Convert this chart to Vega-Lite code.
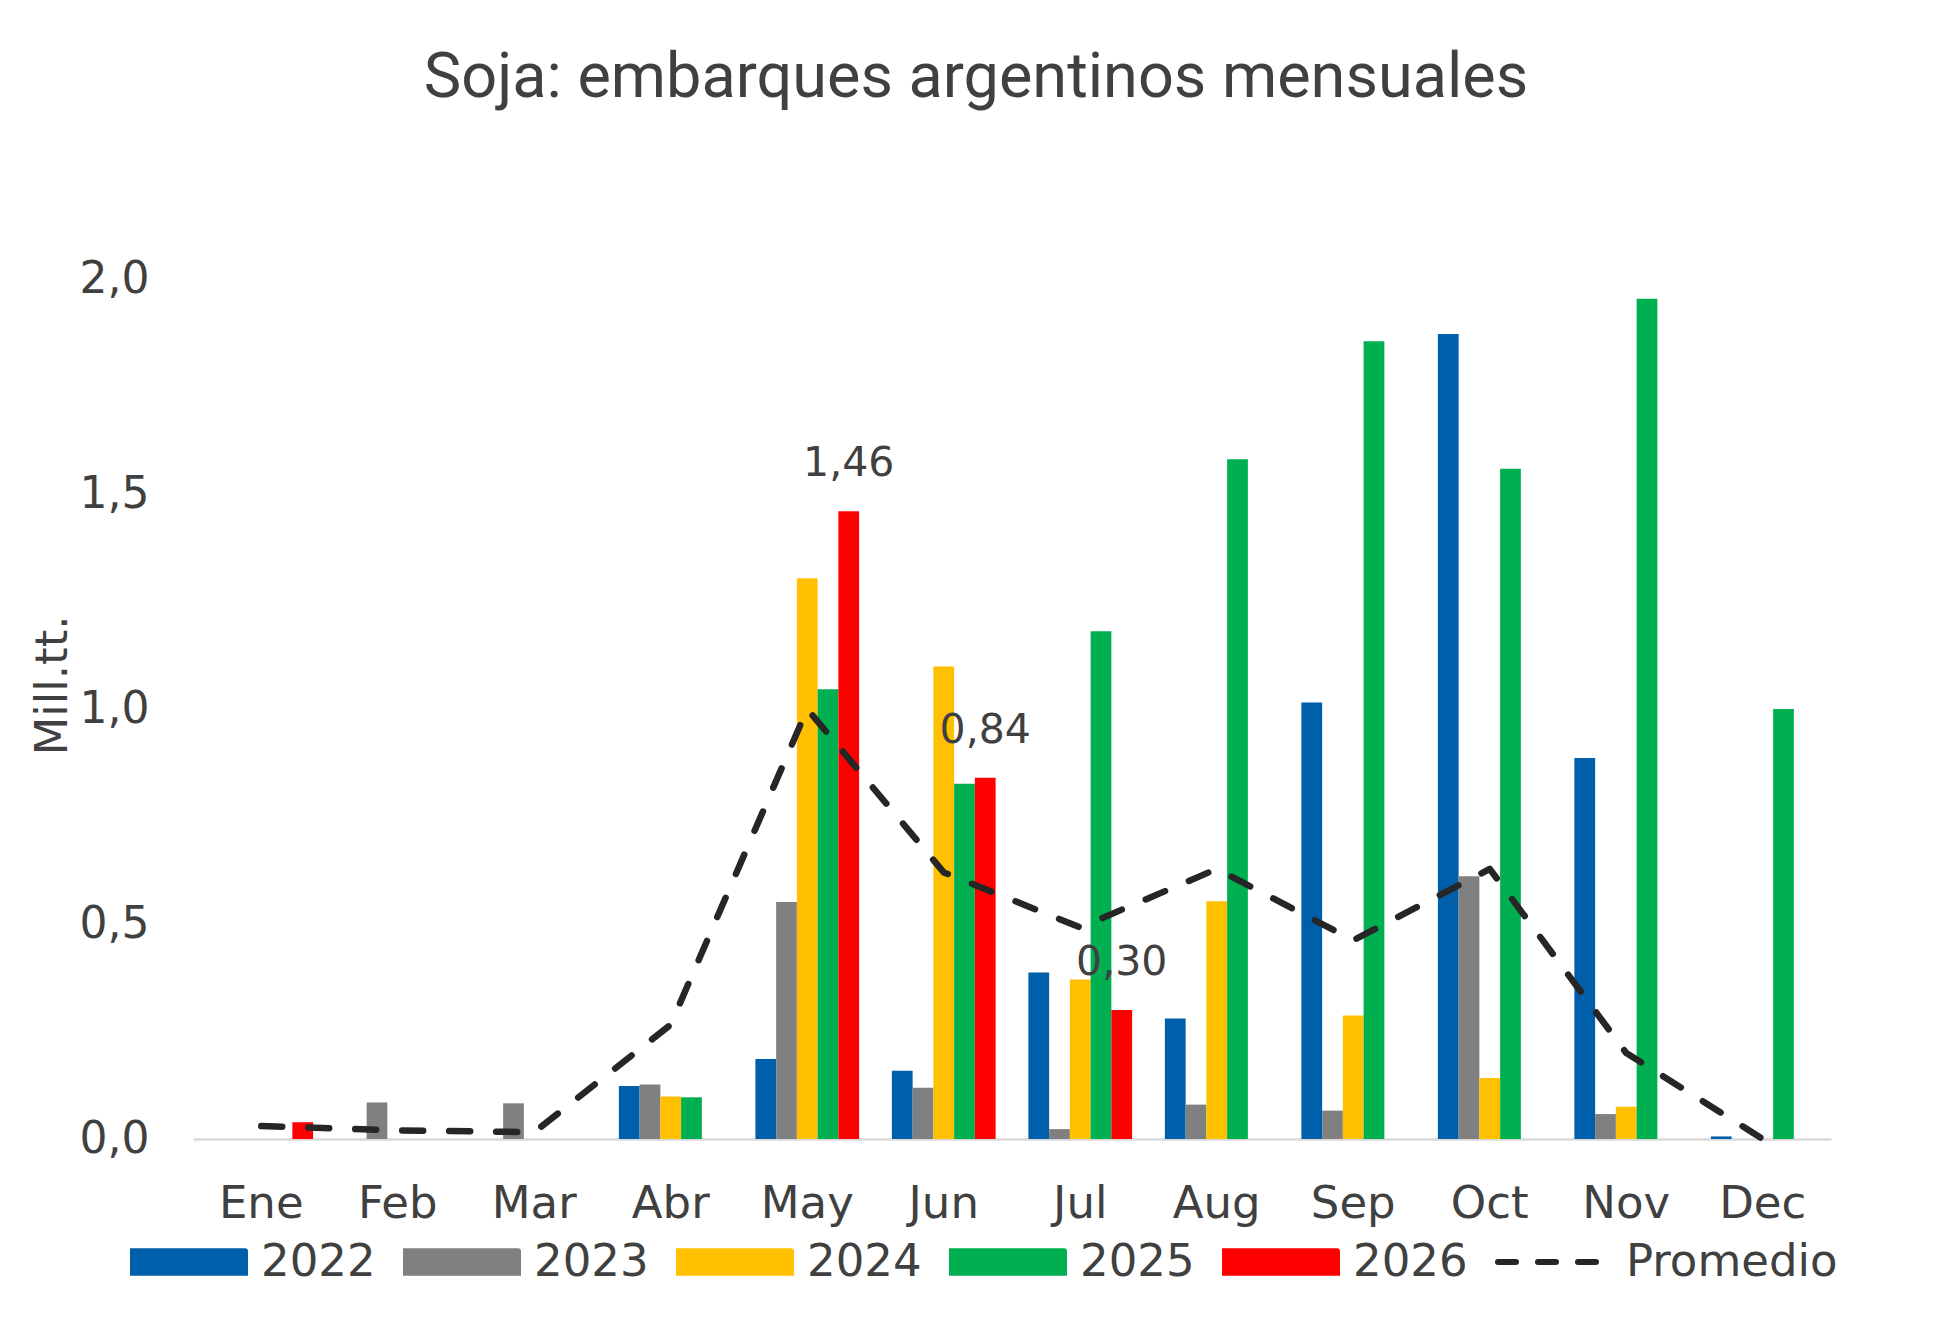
{
  "$schema": "https://vega.github.io/schema/vega-lite/v6.json",
  "width": 1638,
  "height": 860,
  "autosize": {"type": "none"},
  "padding": {"left": 193, "top": 279, "right": 122, "bottom": 194},
  "background": "white",
  "config": {
    "locale": {"number": {"decimal": ",", "thousands": ".", "grouping": [3], "currency": ["", " €"]}},
    "view": {"stroke": null},
    "font": "DejaVu Sans"
  },
  "title": {
    "text": "Soja: embarques argentinos mensuales",
    "font": "Roboto",
    "fontSize": 63,
    "fontWeight": "normal",
    "color": "#404040",
    "anchor": "middle",
    "frame": "group",
    "dx": -36,
    "offset": 147
  },
  "datasets": {
    "bars": [
      {"month": "Ene", "year": "2026", "value": 0.039},
      {"month": "Feb", "year": "2023", "value": 0.085},
      {"month": "Mar", "year": "2023", "value": 0.083},
      {"month": "Abr", "year": "2022", "value": 0.123},
      {"month": "Abr", "year": "2023", "value": 0.127},
      {"month": "Abr", "year": "2024", "value": 0.099},
      {"month": "Abr", "year": "2025", "value": 0.097},
      {"month": "May", "year": "2022", "value": 0.186},
      {"month": "May", "year": "2023", "value": 0.551},
      {"month": "May", "year": "2024", "value": 1.304},
      {"month": "May", "year": "2025", "value": 1.046},
      {"month": "May", "year": "2026", "value": 1.46},
      {"month": "Jun", "year": "2022", "value": 0.159},
      {"month": "Jun", "year": "2023", "value": 0.119},
      {"month": "Jun", "year": "2024", "value": 1.099},
      {"month": "Jun", "year": "2025", "value": 0.826},
      {"month": "Jun", "year": "2026", "value": 0.84},
      {"month": "Jul", "year": "2022", "value": 0.387},
      {"month": "Jul", "year": "2023", "value": 0.023},
      {"month": "Jul", "year": "2024", "value": 0.371},
      {"month": "Jul", "year": "2025", "value": 1.181},
      {"month": "Jul", "year": "2026", "value": 0.30},
      {"month": "Aug", "year": "2022", "value": 0.28},
      {"month": "Aug", "year": "2023", "value": 0.08},
      {"month": "Aug", "year": "2024", "value": 0.553},
      {"month": "Aug", "year": "2025", "value": 1.581},
      {"month": "Sep", "year": "2022", "value": 1.015},
      {"month": "Sep", "year": "2023", "value": 0.066},
      {"month": "Sep", "year": "2024", "value": 0.287},
      {"month": "Sep", "year": "2025", "value": 1.855},
      {"month": "Oct", "year": "2022", "value": 1.872},
      {"month": "Oct", "year": "2023", "value": 0.611},
      {"month": "Oct", "year": "2024", "value": 0.142},
      {"month": "Oct", "year": "2025", "value": 1.559},
      {"month": "Nov", "year": "2022", "value": 0.886},
      {"month": "Nov", "year": "2023", "value": 0.058},
      {"month": "Nov", "year": "2024", "value": 0.075},
      {"month": "Nov", "year": "2025", "value": 1.954},
      {"month": "Dec", "year": "2022", "value": 0.006},
      {"month": "Dec", "year": "2025", "value": 1.0}
    ],
    "avg": [
      {"month": "Ene", "value": 0.03},
      {"month": "Feb", "value": 0.02},
      {"month": "Mar", "value": 0.016},
      {"month": "Abr", "value": 0.266},
      {"month": "May", "value": 1.0},
      {"month": "Jun", "value": 0.62},
      {"month": "Jul", "value": 0.492},
      {"month": "Aug", "value": 0.628},
      {"month": "Sep", "value": 0.462},
      {"month": "Oct", "value": 0.628},
      {"month": "Nov", "value": 0.2},
      {"month": "Dec", "value": 0.0}
    ]
  },
  "encoding": {
    "x": {
      "field": "month",
      "type": "nominal",
      "sort": ["Ene", "Feb", "Mar", "Abr", "May", "Jun", "Jul", "Aug", "Sep", "Oct", "Nov", "Dec"],
      "scale": {"paddingInner": 0.24, "paddingOuter": 0.12},
      "axis": {
        "title": null,
        "labelAngle": 0,
        "labelFont": "DejaVu Sans",
        "labelFontSize": 45,
        "labelColor": "#404040",
        "labelPadding": 42,
        "ticks": false,
        "domainColor": "#D9D9D9",
        "domainWidth": 2.5
      }
    },
    "y": {
      "field": "value",
      "type": "quantitative",
      "scale": {"domain": [0, 2], "nice": false},
      "axis": {
        "values": [0, 0.5, 1, 1.5, 2],
        "format": ".1f",
        "grid": false,
        "domain": false,
        "ticks": false,
        "labelFont": "DejaVu Sans",
        "labelFontSize": 44,
        "labelColor": "#404040",
        "labelPadding": 44,
        "title": "Mill.tt.",
        "titleFont": "DejaVu Sans",
        "titleFontSize": 45,
        "titleFontWeight": "normal",
        "titleColor": "#404040",
        "titleX": -118,
        "titleY": 406
      }
    }
  },
  "layer": [
    {
      "data": {"name": "bars"},
      "mark": {"type": "bar"},
      "encoding": {
        "xOffset": {"field": "year", "type": "nominal", "scale": {"domain": ["2022", "2023", "2024", "2025", "2026"], "paddingInner": 0, "paddingOuter": 0}},
        "color": {
          "field": "year",
          "type": "nominal",
          "scale": {
            "domain": ["2022", "2023", "2024", "2025", "2026", "Promedio"],
            "range": ["#005FAA", "#808080", "#FFC000", "#00B050", "#FF0000", "#262626"]
          },
          "legend": {
            "title": null,
            "orient": "none",
            "legendX": -63,
            "legendY": 924,
            "direction": "horizontal",
            "columns": 6,
            "columnPadding": 18,
            "labelFont": "DejaVu Sans",
            "labelFontSize": 45,
            "labelColor": "#404040",
            "labelOffset": 13,
            "labelLimit": 400,
            "symbolSize": 12544,
            "symbolStrokeWidth": 6,
            "encode": {
              "symbols": {
                "update": {
                  "shape": {"signal": "datum.value === 'Promedio' ? 'stroke' : 'M-1,-0.19H1V0.19H-1Z'"},
                  "fill": {"signal": "datum.value === 'Promedio' ? 'transparent' : scale('color', datum.value)"},
                  "stroke": {"signal": "datum.value === 'Promedio' ? '#262626' : 'transparent'"},
                  "strokeWidth": {"value": 6},
                  "strokeDash": {"signal": "datum.value === 'Promedio' ? [18, 22] : [1, 0]"},
                  "strokeCap": {"value": "round"},
                  "opacity": {"value": 1}
                }
              }
            }
          }
        }
      }
    },
    {
      "data": {"name": "avg"},
      "mark": {"type": "line", "strokeWidth": 6.5, "strokeDash": [21, 26], "strokeCap": "round", "strokeJoin": "round"},
      "encoding": {
        "color": {"datum": "Promedio", "type": "nominal"}
      }
    },
    {
      "data": {"name": "bars"},
      "transform": [{"filter": "datum.year === '2026' && datum.value > 0.1"}],
      "mark": {"type": "text", "font": "DejaVu Sans", "fontSize": 41, "color": "#404040", "baseline": "alphabetic", "dy": -35},
      "encoding": {
        "xOffset": {"field": "year", "type": "nominal"},
        "text": {"field": "value", "type": "quantitative", "format": ".2f"}
      }
    }
  ]
}
